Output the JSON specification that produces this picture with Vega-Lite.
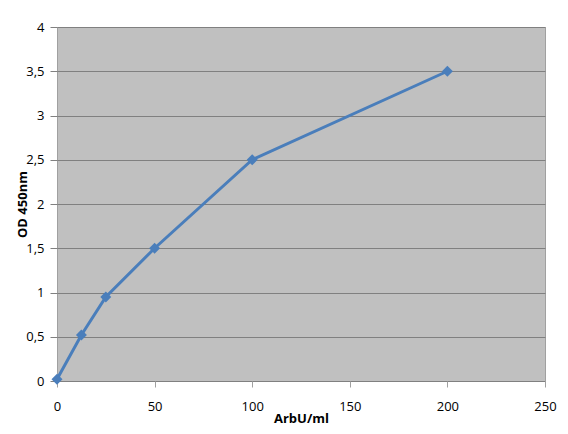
{
  "$schema": "https://vega.github.io/schema/vega-lite/v6.json",
  "width": 488,
  "height": 354,
  "autosize": {"type": "none"},
  "padding": {"left": 57, "top": 27, "right": 23, "bottom": 53},
  "background": "white",
  "config": {
    "view": {"fill": "#c0c0c0", "stroke": "#a0a0a0"},
    "font": "Open Sans",
    "axis": {"labelFont": "Open Sans", "titleFont": "Open Sans", "labelColor": "#000000", "titleColor": "#000000"}
  },
  "data": {
    "values": [
      {"x": 0, "y": 0.02},
      {"x": 12.5, "y": 0.52},
      {"x": 25, "y": 0.95},
      {"x": 50, "y": 1.5},
      {"x": 100, "y": 2.5},
      {"x": 200, "y": 3.5}
    ]
  },
  "mark": {"type": "line", "color": "#4a7ebb", "strokeWidth": 3, "point": {"shape": "diamond", "size": 120, "filled": true, "color": "#4a7ebb"}},
  "encoding": {
    "x": {
      "field": "x", "type": "quantitative",
      "scale": {"domain": [0, 250], "nice": false, "zero": true},
      "axis": {"values": [0, 50, 100, 150, 200, 250], "grid": false, "domain": false, "labelFlush": false, "tickColor": "#a0a0a0", "tickSize": 6, "labelPadding": 13, "labelFontSize": 13, "title": "ArbU/ml", "titleFontSize": 13, "titleFontWeight": "bold", "titlePadding": -1}
    },
    "y": {
      "field": "y", "type": "quantitative",
      "scale": {"domain": [0, 4], "nice": false},
      "axis": {"values": [0, 0.5, 1, 1.5, 2, 2.5, 3, 3.5, 4], "grid": true, "gridColor": "#808080", "gridWidth": 1, "domain": false, "labelFlush": false, "tickColor": "#808080", "tickSize": 7, "labelPadding": 6, "labelFontSize": 13, "labelExpr": "replace(format(datum.value, '.1~f'), '.', ',')", "title": "OD 450nm", "titleFontSize": 13, "titleFontWeight": "bold", "titlePadding": -4}
    }
  }
}
